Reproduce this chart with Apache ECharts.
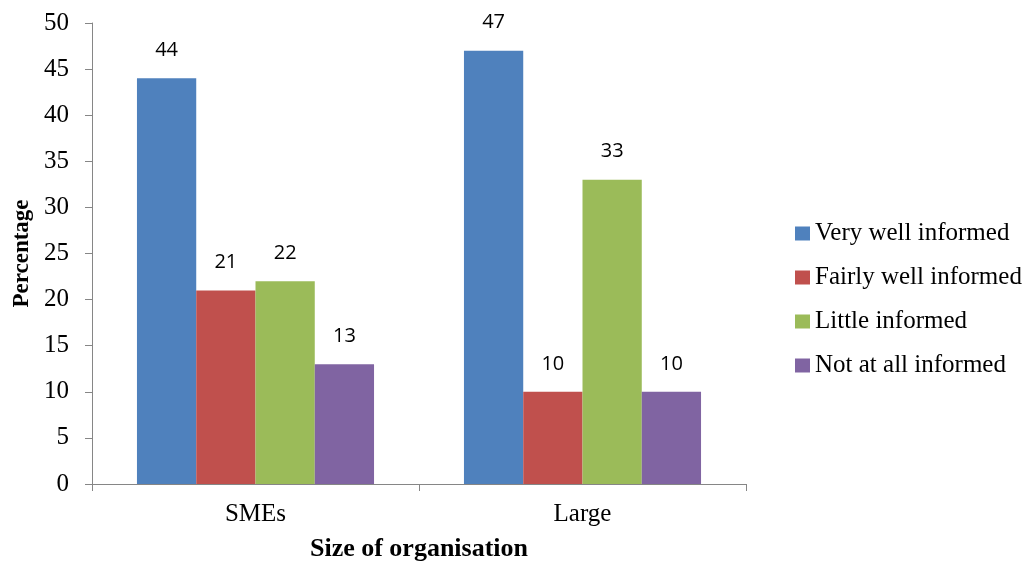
<!DOCTYPE html>
<html>
<head>
<meta charset="utf-8">
<script src="https://cdn.jsdelivr.net/npm/echarts@6/dist/echarts.min.js"></script>
<style>
  html, body { margin: 0; padding: 0; background: #fff; }
  #chart { width: 1032px; height: 565px; }
</style>
</head>
<body>
<div id="chart"></div>
<script>
// Survey: how well organisations are informed, by organisation size (percent)
const categories = ['SMEs', 'Large'];
const veryWell = [44, 47];
const fairlyWell = [21, 10];
const little = [22, 33];
const notAtAll = [13, 10];

const seriesDefs = [
  { name: 'Very well informed', data: veryWell, color: '#4F81BD' },
  { name: 'Fairly well informed', data: fairlyWell, color: '#C0504D' },
  { name: 'Little informed', data: little, color: '#9BBB59' },
  { name: 'Not at all informed', data: notAtAll, color: '#8064A2' }
];

const serif = '"Liberation Serif", "Times New Roman", serif';
const axisGray = '#868686';

const chart = echarts.init(document.getElementById('chart'), null, { renderer: 'canvas' });

chart.setOption({
  animation: false,
  backgroundColor: '#ffffff',
  grid: {
    left: 92, right: 286, top: 23, bottom: 81,
    containLabel: false,
    outerBoundsMode: 'none'
  },
  legend: {
    orient: 'vertical',
    left: 790,
    top: 216,
    itemWidth: 15,
    itemHeight: 14,
    itemGap: 19,
    icon: 'rect',
    textStyle: { fontFamily: serif, fontSize: 25, color: '#000' },
    data: seriesDefs.map(s => s.name)
  },
  xAxis: {
    type: 'category',
    data: categories,
    name: 'Size of organisation',
    nameLocation: 'middle',
    nameGap: 52,
    nameTextStyle: { fontFamily: serif, fontSize: 26, fontWeight: 'bold', color: '#000' },
    axisLine: { lineStyle: { color: axisGray, width: 1 } },
    axisTick: { show: true, length: 7, lineStyle: { color: axisGray } },
    axisLabel: { fontFamily: serif, fontSize: 25, color: '#000', margin: 18 }
  },
  yAxis: {
    type: 'value',
    min: 0,
    max: 50,
    interval: 5,
    name: 'Percentage',
    nameLocation: 'middle',
    nameGap: 58,
    nameRotate: 90,
    nameTextStyle: { fontFamily: serif, fontSize: 23, fontWeight: 'bold', color: '#000' },
    axisLine: { show: true, lineStyle: { color: axisGray, width: 1 } },
    axisTick: { show: true, length: 7, lineStyle: { color: axisGray } },
    splitLine: { show: false },
    axisLabel: { fontFamily: serif, fontSize: 25, color: '#000', margin: 23 }
  },
  series: seriesDefs.map(s => ({
    name: s.name,
    type: 'bar',
    data: s.data,
    barGap: '0%',
    barCategoryGap: '27.5%',
    itemStyle: { color: s.color },
    label: {
      show: true,
      position: 'top',
      distance: 18,
      fontFamily: '"Open Sans", "Liberation Sans", sans-serif',
      fontSize: 20,
      color: '#000'
    }
  }))
});
</script>
</body>
</html>
